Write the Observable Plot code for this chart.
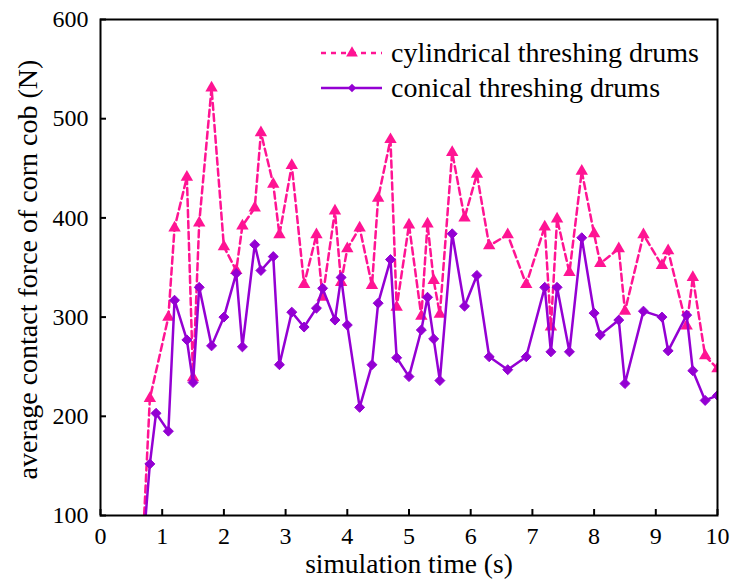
<!DOCTYPE html>
<html><head><meta charset="utf-8">
<script src="https://cdn.jsdelivr.net/npm/d3@7"></script>
<script src="https://cdn.jsdelivr.net/npm/@observablehq/plot@0.6"></script>
<style>body{margin:0;background:#fff} #chart{width:732px;height:580px}</style>
</head><body><div id="chart"></div>
<script>
const seriesNames = ["cylindrical threshing drums", "conical threshing drums"];
const xTitle = "simulation time (s)";
const yTitle = "average contact force of corn cob (N)";
const xTicks = [0,1,2,3,4,5,6,7,8,9,10];
const yTicks = [100,200,300,400,500,600];

const cylTime = [0.7,0.8,1.1,1.2,1.4,1.5,1.6,1.8,2.0,2.2,2.3,2.5,2.6,2.8,2.9,3.1,3.3,3.5,3.6,3.8,3.9,4.0,4.2,4.4,4.5,4.7,4.8,5.0,5.2,5.3,5.4,5.5,5.7,5.9,6.1,6.3,6.6,6.9,7.2,7.3,7.4,7.6,7.8,8.0,8.1,8.4,8.5,8.8,9.1,9.2,9.5,9.6,9.8,10.0];
const cylForce = [90,218,300,390,441,239,395,531,371,347,392,410,486,434,383,453,333,383,320,407,335,369,390,332,420,479,310,393,301,394,337,303,466,400,444,372,383,333,391,290,399,345,447,384,354,369,306,383,352,367,291,340,261,248];

const conTime = [0.7,0.8,0.9,1.1,1.2,1.4,1.5,1.6,1.8,2.0,2.2,2.3,2.5,2.6,2.8,2.9,3.1,3.3,3.5,3.6,3.8,3.9,4.0,4.2,4.4,4.5,4.7,4.8,5.0,5.2,5.3,5.4,5.5,5.7,5.9,6.1,6.3,6.6,6.9,7.2,7.3,7.4,7.6,7.8,8.0,8.1,8.4,8.5,8.8,9.1,9.2,9.5,9.6,9.8,10.0];
const conForce = [75,152,203,185,317,277,234,330,271,300,344,270,373,347,361,252,305,290,309,329,297,340,292,209,252,314,358,259,240,287,320,278,236,384,311,342,260,247,260,330,265,330,265,380,304,282,297,233,306,300,266,302,246,216,221];

const pink = "#ff1493";
const purple = "#9400d3";

const cylData = cylTime.map((t, i) => ({t, f: cylForce[i]}));
const conData = conTime.map((t, i) => ({t, f: conForce[i]}));

const font = "'Liberation Serif', 'Times New Roman', serif";

const svg = Plot.plot({
  width: 732, height: 580,
  marginLeft: 100, marginRight: 15, marginTop: 19, marginBottom: 65,
  style: {fontFamily: font, background: "white", color: "black"},
  x: {domain: [0, 10]},
  y: {domain: [100, 600]},
  marks: [
    Plot.line(cylData, {x: "t", y: "f", stroke: pink, strokeWidth: 2.5, strokeDasharray: "7,4", clip: true}),
    Plot.dot(cylData, {x: "t", y: "f", symbol: "triangle", fill: pink, r: 4.6, clip: true}),
    Plot.line(conData, {x: "t", y: "f", stroke: purple, strokeWidth: 2.5, clip: true}),
    Plot.dot(conData, {x: "t", y: "f", symbol: "diamond2", fill: purple, stroke: purple, strokeWidth: 1, r: 4.5, clip: true}),
    Plot.frame({stroke: "black", strokeWidth: 2}),
    Plot.axisX({ticks: xTicks, tickSize: -6, tickPadding: 17, fontSize: 24, label: null, strokeWidth: 2}),
    Plot.axisY({ticks: yTicks, tickSize: -6, tickPadding: 18, fontSize: 24, label: null, strokeWidth: 2}),
    Plot.text([xTitle], {frameAnchor: "bottom", lineAnchor: "middle", dy: 49, fontSize: 27.5, text: d => d, fill: "black"}),
    Plot.text([yTitle], {frameAnchor: "left", lineAnchor: "middle", dx: -72, dy: 2, rotate: -90, textAnchor: "middle", fontSize: 28, text: d => d, fill: "black"})
  ]
});

// legend inside the plot
const legendItems = [
  {name: seriesNames[0], color: pink, dash: "5,5", symbol: d3.symbolTriangle, size: 60},
  {name: seriesNames[1], color: purple, dash: null, symbol: d3.symbolDiamond2, size: 45}
];
const sel = d3.select(svg);
const lg = sel.append("g").attr("font-family", font).attr("font-size", 28).attr("text-anchor", "start");
legendItems.forEach((it, i) => {
  const y = 53 + i * 35;
  lg.append("line").attr("x1", 321).attr("x2", 382).attr("y1", y).attr("y2", y)
    .attr("stroke", it.color).attr("stroke-width", 2.5).attr("stroke-dasharray", it.dash);
  lg.append("path").attr("d", d3.symbol(it.symbol, it.size)()).attr("transform", `translate(352,${y})`)
    .attr("fill", it.color);
  lg.append("text").attr("x", 391).attr("y", y).attr("dy", "0.33em").attr("fill", "black")
    .attr("text-anchor", "start").text(it.name);
});

document.getElementById("chart").appendChild(svg);
</script>
</body></html>
